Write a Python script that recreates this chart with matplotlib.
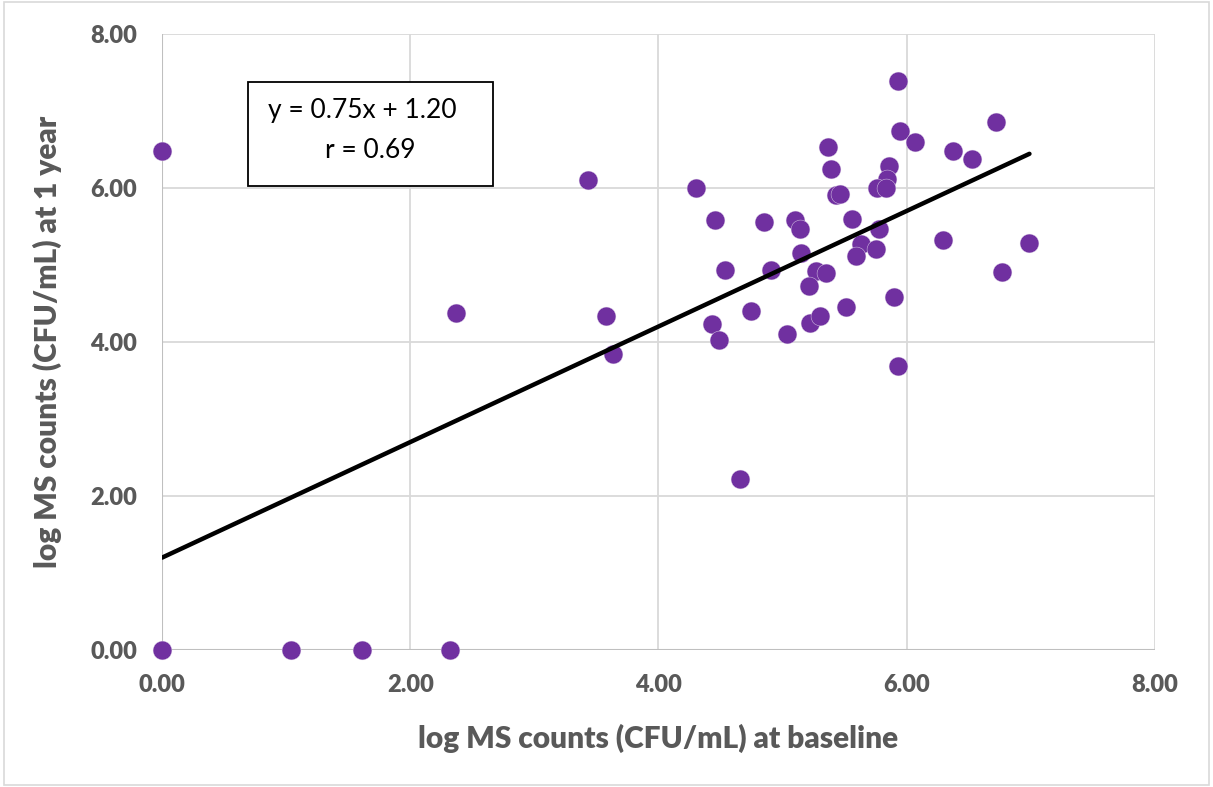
import numpy as np
import matplotlib.pyplot as plt
from matplotlib.patches import Rectangle

# baseline vs 1 year log MS counts
x_base = [0.00, 0.00, 1.04, 1.61, 2.32, 2.37, 3.43, 3.58, 3.63, 4.30,
          5.93, 5.95, 6.07, 6.72, 5.37, 5.39, 6.37, 6.53, 5.86, 5.84,
          5.76, 5.83, 5.43, 5.46, 4.46, 4.85, 5.10, 5.14, 5.56, 5.78,
          5.63, 5.75, 5.59, 5.15, 6.29, 6.99, 4.54, 4.91, 5.27, 5.35,
          6.77, 5.21, 5.90, 4.75, 4.43, 4.49, 5.04, 5.22, 5.30, 5.51,
          5.93, 4.66]
y_year = [6.48, 0.00, 0.00, 0.00, 0.00, 4.38, 6.10, 4.34, 3.84, 6.00,
          7.39, 6.74, 6.60, 6.86, 6.53, 6.25, 6.48, 6.38, 6.29, 6.11,
          6.00, 6.00, 5.91, 5.92, 5.58, 5.56, 5.58, 5.47, 5.60, 5.47,
          5.27, 5.21, 5.11, 5.15, 5.33, 5.29, 4.94, 4.93, 4.92, 4.90,
          4.91, 4.72, 4.58, 4.40, 4.23, 4.03, 4.10, 4.25, 4.34, 4.45,
          3.69, 2.22]
slope, intercept, r_val = 0.75, 1.20, 0.69
ticks = [0, 2, 4, 6, 8]

plt.rcParams['font.family'] = ['Lato', 'DejaVu Sans']

fig = plt.figure(figsize=(12.13, 7.87), dpi=100)
ax = fig.add_axes([0.1336, 0.174, 0.8184, 0.783])

ax.set_xlim(0, 8)
ax.set_ylim(0, 8)
ax.set_xticks(ticks)
ax.set_yticks(ticks)
ax.set_xticklabels(['%.2f' % t for t in ticks])
ax.set_yticklabels(['%.2f' % t for t in ticks])
ax.grid(True, color='#d9d9d9', linewidth=1.3)
ax.set_axisbelow(True)
for s in ax.spines.values():
    s.set_visible(False)
ax.axhline(0, color='#bfbfbf', linewidth=1.5, zorder=1)
ax.axvline(0, color='#bfbfbf', linewidth=1.5, zorder=1)
ax.tick_params(length=0, labelsize=17, labelcolor='#595959')
ax.tick_params(axis='x', pad=17)
ax.tick_params(axis='y', pad=18)
for lab in ax.get_xticklabels() + ax.get_yticklabels():
    lab.set_fontweight('heavy')

ax.scatter(x_base, y_year, s=185, color='#7030a0', edgecolors='#e8dff0',
           linewidths=0.3, zorder=3, clip_on=False)

xl = np.array([0, max(x_base)])
ax.plot(xl, slope * xl + intercept, color='black', linewidth=3.2, zorder=4,
        solid_capstyle='round')

ax.set_xlabel('log MS counts (CFU/mL) at baseline', fontsize=21.5,
              fontweight='heavy', color='#595959', labelpad=20)
ax.set_ylabel('log MS counts (CFU/mL) at 1 year', fontsize=21.5,
              fontweight='heavy', color='#595959', labelpad=20)

ax.add_patch(Rectangle((0.69, 6.03), 1.98, 1.35, facecolor='white',
                       edgecolor='black', linewidth=1.3, zorder=5))
ax.text(1.61, 7.0, 'y = %.2fx + %.2f' % (slope, intercept), fontsize=19,
        ha='center', va='center', zorder=6)
ax.text(1.68, 6.49, 'r = %.2f' % r_val, fontsize=19,
        ha='center', va='center', zorder=6)

fig.patches.append(Rectangle((0.003, 0.003), 0.994, 0.994,
                             transform=fig.transFigure, fill=False,
                             edgecolor='#d9d9d9', linewidth=1.2))

fig.savefig('out.png', dpi=100)
